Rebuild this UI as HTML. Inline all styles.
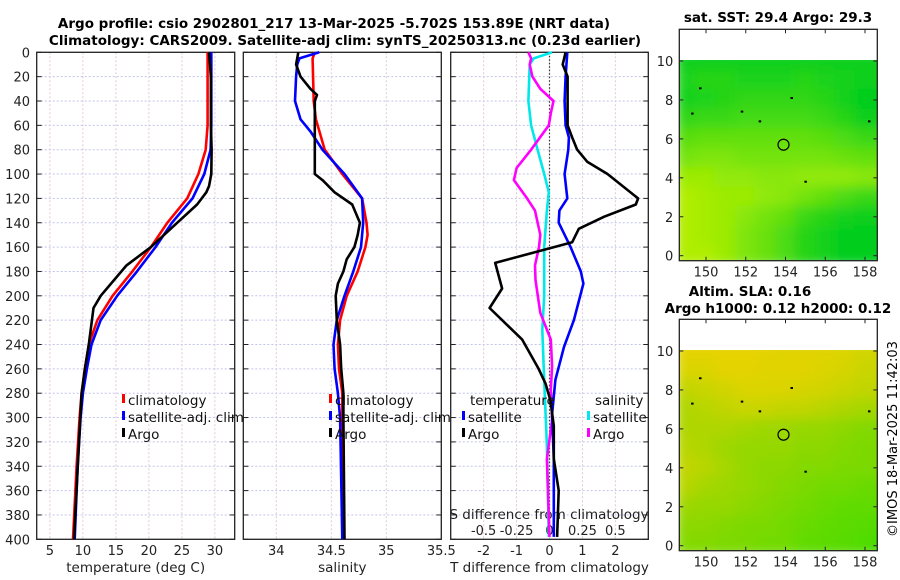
<!DOCTYPE html>
<html><head><meta charset="utf-8">
<style>
html,body{margin:0;padding:0;background:#fff;}
svg{display:block;font-family:"DejaVu Sans","Liberation Sans",sans-serif;}
</style></head>
<body>
<svg id="fig" xmlns="http://www.w3.org/2000/svg" width="900" height="580" viewBox="0 0 900 580">
<defs>
<filter id="blur" x="0" y="0" width="1" height="1"><feGaussianBlur stdDeviation="6" edgeMode="duplicate"/></filter>
<clipPath id="clipSST"><rect x="679.3" y="60" width="198" height="200.7"/></clipPath>
<clipPath id="clipSLA"><rect x="679.3" y="350" width="198" height="200.7"/></clipPath>
</defs>
<g id="titles" font-weight="bold" font-size="13.5" text-anchor="middle">
<text x="334" y="28">Argo profile: csio 2902801_217 13-Mar-2025 -5.702S 153.89E (NRT data)</text>
<text x="345" y="45">Climatology: CARS2009. Satellite-adj clim: synTS_20250313.nc (0.23d earlier)</text>
<text x="778" y="22">sat. SST: 29.4 Argo: 29.3</text>
<text x="750" y="296">Altim. SLA: 0.16</text>
<text x="778" y="313">Argo h1000: 0.12 h2000: 0.12</text>
</g>
<text x="0" y="0" font-size="13" text-anchor="middle" transform="translate(897,439) rotate(-90)">©IMOS 18-Mar-2025 11:42:03</text>
<g id="plots"></g>
</svg>
<script>
// ---------- data ----------
const depthTicks=[0,20,40,60,80,100,120,140,160,180,200,220,240,260,280,300,320,340,360,380,400];
const tempTicks=[5,10,15,20,25,30];
const salTicks=[34,34.5,35,35.5];
const dTTicks=[-2,-1,0,1,2];
const dTTickLabels=['-2','-1','0','1','2'];
const dSTicks=[-0.5,-0.25,0,0.25,0.5];
const dSTickLabels=['-0.5','-0.25','0','0.25','0.5'];

const depthClimT=[0,60,80,100,120,140,160,180,200,220,240,260,280,300,340,400];
const tempClim=[28.9,28.9,28.6,27.5,25.8,22.8,20.3,17.5,14.5,12.2,10.9,10.3,9.8,9.5,9.05,8.5];
const tempSat=[29.45,29.45,29.35,28.4,26.6,23.5,21.0,18.2,15.2,12.7,11.3,10.6,10.0,9.65,9.2,8.75];
const depthArgoT=[0,20,60,80,100,110,115,125,140,160,175,200,210,240,260,280,300,400];
const tempArgo=[29.1,29.4,29.4,29.5,29.45,29.1,28.7,27.3,24.3,20.3,16.6,12.7,11.6,10.9,10.3,9.8,9.6,8.65];

const depthClimS=[0,5,40,55,80,100,120,140,150,160,180,200,220,240,260,280,300,400];
const salClim=[34.35,34.33,34.34,34.36,34.44,34.6,34.78,34.82,34.83,34.81,34.74,34.64,34.58,34.56,34.57,34.6,34.6,34.61];
const depthSatS=[0,5,10,20,40,55,65,80,100,120,140,160,180,200,220,240,260,280,300,400];
const salSat=[34.39,34.21,34.19,34.18,34.17,34.22,34.31,34.42,34.62,34.78,34.79,34.77,34.7,34.62,34.55,34.52,34.53,34.56,34.58,34.6];
const depthArgoS=[0,10,20,30,35,40,100,105,115,125,140,150,160,170,180,190,200,220,240,260,280,300,400];
const salArgo=[34.2,34.18,34.22,34.31,34.37,34.35,34.35,34.42,34.53,34.69,34.76,34.74,34.71,34.64,34.61,34.56,34.54,34.55,34.58,34.59,34.61,34.61,34.62];

const depthArgoDT=[0,10,20,60,70,80,90,100,120,125,135,145,156,173,194,210,236,260,272,286,307,334,360,398];
const dTArgo=[0.49,0.4,0.55,0.55,0.69,0.84,1.15,1.76,2.69,2.62,1.66,0.89,0.69,-1.65,-1.44,-1.82,-0.83,-0.33,-0.12,0.03,0.13,0.13,0.28,0.23];
const depthSatDT=[0,20,40,60,70,80,100,120,130,140,160,180,190,220,242,269,297,335,398];
const dTSat=[0.54,0.49,0.46,0.49,0.59,0.57,0.46,0.54,0.3,0.28,0.64,0.95,1.03,0.74,0.44,0.18,0.08,0.13,0.13];
const depthSatDS=[0,5,10,40,60,80,100,115,130,160,200,228,269,323,398];
const dSSat=[0.02,-0.12,-0.15,-0.16,-0.14,-0.09,-0.04,-0.005,-0.02,-0.04,-0.04,-0.055,-0.04,-0.02,-0.005];
const depthArgoDS=[0,5,10,20,30,40,50,60,80,95,105,120,130,150,160,175,187,214,236,258,277,302,334,398];
const dSArgo=[-0.16,-0.14,-0.15,-0.13,-0.07,0.03,0.01,-0.005,-0.14,-0.25,-0.27,-0.17,-0.11,-0.07,-0.08,-0.11,-0.106,-0.07,0.01,0.02,0.01,0.02,-0.02,0.0];

// map grids: rows lat 10..0, cols lon 149..159, 0=green 1=yellow
const sstGrid=[
[0.05,0.05,0.05,0.05,0.05,0.05,0.05,0.05,0.05,0.05,0.05],
[0.15,0.2,0.2,0.15,0.15,0.15,0.2,0.15,0.1,0.05,0.05],
[0.1,0.15,0.2,0.25,0.25,0.25,0.25,0.2,0.1,0.0,0.0],
[0.25,0.3,0.3,0.35,0.35,0.35,0.35,0.3,0.2,0.05,0.05],
[0.45,0.5,0.5,0.5,0.5,0.5,0.5,0.45,0.4,0.3,0.3],
[0.6,0.65,0.65,0.6,0.6,0.6,0.6,0.6,0.55,0.5,0.5],
[0.8,0.8,0.75,0.75,0.7,0.7,0.75,0.75,0.75,0.7,0.7],
[0.9,0.85,0.8,0.8,0.75,0.7,0.6,0.5,0.4,0.3,0.3],
[0.9,0.85,0.8,0.7,0.6,0.5,0.3,0.2,0.1,0.05,0.05],
[0.9,0.85,0.8,0.65,0.55,0.4,0.2,0.1,0.0,0.0,0.0],
[0.9,0.9,0.8,0.65,0.55,0.4,0.2,0.1,0.0,0.0,0.0]];
const slaGrid=[
[0.9,0.9,0.92,0.92,0.9,0.88,0.88,0.88,0.85,0.8,0.8],
[0.85,0.85,0.9,0.9,0.88,0.88,0.88,0.85,0.82,0.75,0.75],
[0.7,0.75,0.8,0.85,0.85,0.85,0.82,0.8,0.75,0.7,0.7],
[0.6,0.65,0.7,0.75,0.75,0.7,0.7,0.65,0.6,0.55,0.55],
[0.6,0.6,0.6,0.55,0.5,0.5,0.45,0.45,0.4,0.35,0.35],
[0.65,0.6,0.5,0.45,0.45,0.45,0.4,0.4,0.35,0.3,0.3],
[0.7,0.65,0.55,0.45,0.4,0.4,0.35,0.35,0.3,0.3,0.3],
[0.65,0.55,0.5,0.45,0.4,0.35,0.3,0.25,0.25,0.2,0.2],
[0.5,0.45,0.45,0.4,0.35,0.3,0.25,0.2,0.15,0.15,0.15],
[0.4,0.4,0.35,0.3,0.3,0.25,0.2,0.15,0.12,0.1,0.05],
[0.35,0.35,0.3,0.3,0.25,0.25,0.15,0.12,0.1,0.05,0.0]];
const mapLats=[10,9,8,7,6,5,4,3,2,1,0];
const mapLons=[149,150,151,152,153,154,155,156,157,158,159];
const latTicks=[0,2,4,6,8,10];
const lonTicks=[150,152,154,156,158];
const argoLon=153.9, argoLat=5.7;

// ---------- drawing ----------
const NS='http://www.w3.org/2000/svg';
const root=document.getElementById('plots');
function mk(tag,attrs,parent){const e=document.createElementNS(NS,tag);for(const k in attrs)e.setAttribute(k,attrs[k]);(parent||root).appendChild(e);return e;}
const TOP=52.3,BOT=539.3;
const yD=d=>TOP+(d/400)*(BOT-TOP);
function scale(d0,d1,r0,r1){return v=>r0+(v-d0)/(d1-d0)*(r1-r0);}

const panels=[
 {x0:36.7,x1:234.7,sx:scale(3,33,36.7,234.7),ticks:tempTicks,labels:tempTicks.map(String),xlabel:'temperature (deg C)',name:'temperature-panel',ylab:true},
 {x0:243.3,x1:441.3,sx:scale(33.7,35.5,243.3,441.3),ticks:salTicks,labels:salTicks.map(String),xlabel:'salinity',name:'salinity-panel'},
 {x0:450.7,x1:648.3,sx:scale(-3,3,450.7,648.3),ticks:dTTicks,labels:dTTickLabels,xlabel:'T difference from climatology',name:'difference-panel'}
];
panels.forEach(p=>{
 const g=mk('g',{});
 
 
 depthTicks.forEach(d=>{
  const l=mk('line',{x1:p.x0,x2:p.x1,y1:yD(d),y2:yD(d),stroke:'#c0c4ea','stroke-width':1,'stroke-dasharray':'2,2'},g);
  
  
  mk('line',{x1:p.x0,x2:p.x0+5,y1:yD(d),y2:yD(d),stroke:'#222','stroke-width':1},g);
  mk('line',{x1:p.x1-5,x2:p.x1,y1:yD(d),y2:yD(d),stroke:'#222','stroke-width':1},g);
  if(p.ylab){const t=mk('text',{x:30,y:yD(d)+5,'font-size':13,'text-anchor':'end',fill:'#222'},g);t.textContent=d;
   
   }
 });
 p.ticks.forEach((v,i)=>{
  const x=p.sx(v);
  const l=mk('line',{x1:x,x2:x,y1:TOP,y2:BOT,stroke:'#e0c8d8','stroke-width':1,'stroke-dasharray':'2,2'},g);
  
  
  const t=mk('text',{x:x,y:555,'font-size':13,'text-anchor':'middle',fill:'#222'},g);t.textContent=p.labels[i];
  
  
 });
 const r=mk('rect',{x:p.x0,y:TOP,width:p.x1-p.x0,height:BOT-TOP,fill:'none',stroke:'#222','stroke-width':1.3},g);
 
 
 const xl=mk('text',{x:(p.x0+p.x1)/2,y:572,'font-size':13.5,'text-anchor':'middle',fill:'#222'},g);xl.textContent=p.xlabel;
 
 
});
{const p=panels[2];const sS=scale(-0.75,0.75,p.x0,p.x1);
 const t=mk('text',{x:549,y:519,'font-size':13.5,'text-anchor':'middle',fill:'#222'});t.textContent='S difference from climatology';
 
 
 dSTicks.forEach((v,i)=>{const tl=mk('text',{x:sS(v),y:535,'font-size':13,'text-anchor':'middle',fill:'#222'});tl.textContent=dSTickLabels[i];
  
  });
 const z=mk('line',{x1:p.sx(0),x2:p.sx(0),y1:TOP,y2:BOT,stroke:'#333','stroke-width':1.2,'stroke-dasharray':'1.5,2'});
 
 
}
function series(depths,vals,sx,color,name){
 const pts=depths.map((d,i)=>sx(vals[i]).toFixed(1)+','+yD(d).toFixed(1)).join(' ');
 const l=mk('polyline',{points:pts,fill:'none',stroke:color,'stroke-width':2.6,'stroke-linejoin':'round'});
 
 
}
series(depthClimT,tempClim,panels[0].sx,'#ff0000','temp-climatology-line');
series(depthClimT,tempSat,panels[0].sx,'#0000ff','temp-satellite-line');
series(depthArgoT,tempArgo,panels[0].sx,'#000','temp-argo-line');
series(depthClimS,salClim,panels[1].sx,'#ff0000','sal-climatology-line');
series(depthSatS,salSat,panels[1].sx,'#0000ff','sal-satellite-line');
series(depthArgoS,salArgo,panels[1].sx,'#000','sal-argo-line');
const sS=scale(-0.75,0.75,panels[2].x0,panels[2].x1);
series(depthSatDS,dSSat,sS,'#00e8e8','sdiff-satellite-line');
series(depthArgoDS,dSArgo,sS,'#ff00ff','sdiff-argo-line');
series(depthSatDT,dTSat,panels[2].sx,'#0000ff','tdiff-satellite-line');
series(depthArgoDT,dTArgo,panels[2].sx,'#000','tdiff-argo-line');

function legend(x,y,items,name){
 const g=mk('g',{});
 
 
 items.forEach((it,i)=>{
  if(it[1]){mk('rect',{x:x,y:y+i*17-11,width:3,height:9,fill:it[1]},g);}
  const t=mk('text',{x:x+(it[1]?6:0),y:y+i*17,'font-size':13.5,fill:'#111'},g);t.textContent=it[0];
  
  
 });
}
legend(122,405,[['climatology','#ff0000'],['satellite-adj. clim','#0000ff'],['Argo','#000']],'temp-legend');
legend(329,405,[['climatology','#ff0000'],['satellite-adj. clim','#0000ff'],['Argo','#000']],'sal-legend');
legend(470,405,[['temperature',null]],'tdiff-legend-title');
legend(462,422,[['satellite','#0000ff'],['Argo','#000']],'tdiff-legend');
legend(595,405,[['salinity',null]],'sdiff-legend-title');
legend(587,422,[['satellite','#00e8e8'],['Argo','#ff00ff']],'sdiff-legend');

// ---------- maps ----------
function drawMap(top,bot,lat10y,lat0y,grid,c0,c1,clip,name){
 const L=679.3,R=877.3;
 const sx=scale(150,158,706,865), sy=scale(0,10,lat0y,lat10y);
 const g=mk('g',{});
 
 
 const cg=mk('g',{'clip-path':'url(#'+clip+')'},g);
 const hg=mk('g',{filter:'url(#blur)'},cg);
 const cw=sx(1)-sx(0), ch=sy(0)-sy(1);
 grid.forEach((row,r)=>row.forEach((v,c)=>{
  const col='rgb('+[0,1,2].map(k=>Math.round(c0[k]+(c1[k]-c0[k])*v)).join(',')+')';
  const cell=mk('rect',{x:sx(mapLons[c])-cw/2-1,y:sy(mapLats[r])-ch/2-1,width:cw+2,height:ch+2,fill:col},hg);
  
  
 }));
 latTicks.forEach(v=>{const y=sy(v);
  mk('line',{x1:L,x2:L+4,y1:y,y2:y,stroke:'#222'},g);mk('line',{x1:R-4,x2:R,y1:y,y2:y,stroke:'#222'},g);
  const t=mk('text',{x:L-6,y:y+5,'font-size':13,'text-anchor':'end',fill:'#222'},g);t.textContent=v;
  
  });
 lonTicks.forEach(v=>{const x=sx(v);
  mk('line',{x1:x,x2:x,y1:bot-4,y2:bot,stroke:'#222'},g);mk('line',{x1:x,x2:x,y1:top,y2:top+4,stroke:'#222'},g);
  const t=mk('text',{x:x,y:bot+16,'font-size':13,'text-anchor':'middle',fill:'#222'},g);t.textContent=v;
  
  });
 const c=mk('circle',{cx:sx(argoLon),cy:sy(argoLat),r:5.5,fill:'none',stroke:'#000','stroke-width':1.2},g);
 
 
 [[151.8,7.4],[158.2,6.9],[154.3,8.1],[149.3,7.3],[155,3.8],[149.7,8.6],[152.7,6.9]].forEach(p=>mk('rect',{x:sx(p[0])-1,y:sy(p[1])-1,width:2.5,height:2,fill:'#000'},g));
 const fr=mk('rect',{x:L,y:top,width:R-L,height:bot-top,fill:'none',stroke:'#222','stroke-width':1.3},g);
 
 
}
drawMap(29.3,260.7,61,255.7,sstGrid,[0,205,30],[195,242,0],'clipSST','sst-map');
drawMap(319.3,550.7,351,545.7,slaGrid,[70,220,0],[245,210,0],'clipSLA','sla-map');
</script>
</body></html>
